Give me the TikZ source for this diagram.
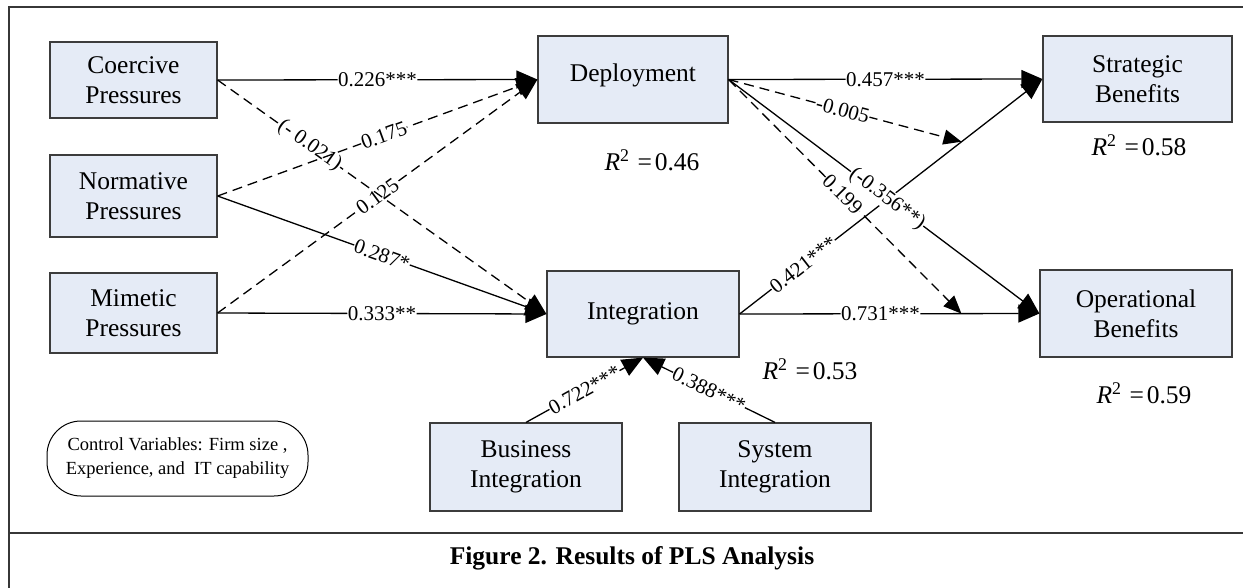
\documentclass[tikz,border=0pt]{standalone}
\usepackage{fontspec}
\setmainfont{Liberation Serif}
\usetikzlibrary{arrows.meta,calc}

\definecolor{boxfill}{RGB}{229,235,246}
\definecolor{boxline}{RGB}{60,60,60}
\definecolor{frameline}{RGB}{55,55,55}

\tikzset{
  construct/.style={draw=boxline, fill=boxfill, line width=1.2pt, align=center,
    inner sep=0pt, font=\fontsize{25.5}{30}\selectfont},
  link/.style={line width=1.3pt, -{Triangle[length=21pt,width=18pt]}},
  dashlink/.style={link, dash pattern=on 10pt off 6pt},
  modlink/.style={line width=1.3pt, dash pattern=on 10pt off 6pt,
    -{Triangle[length=18pt,width=15pt]}},
  coef/.style={fill=white, inner sep=0.5pt, sloped, font=\fontsize{21}{24}\selectfont},
  rsq/.style={inner sep=0pt, font=\fontsize{25.5}{30}\selectfont},
  ctrlbox/.style={draw=black, line width=1pt, rounded corners=34pt, align=center,
    inner sep=0pt, font=\fontsize{18.5}{24}\selectfont},
}

\newcommand{\Rsq}[1]{\textit{R}\textsuperscript{2}\hspace{8pt}=\hspace{3pt}#1}

\begin{document}
\begin{tikzpicture}[x=1pt, y=-1pt]
  \useasboundingbox (0,0) rectangle (1243,587);

  % outer frame and caption rule
  \begin{scope}
    \clip (0,0) rectangle (1243,587);
    \draw[frameline, line width=1.8pt] (9,7) rectangle (1262,612);
    \draw[frameline, line width=1.8pt] (9,533) -- (1262,533);
  \end{scope}

  % constructs
  \node[construct, minimum width=167pt, minimum height=76pt] (coer)  at (133.5,80)  {Coercive\\Pressures};
  \node[construct, minimum width=167pt, minimum height=82pt] (norm)  at (133.5,196) {Normative\\Pressures};
  \node[construct, minimum width=167pt, minimum height=80pt] (mim)   at (133.5,313) {Mimetic\\Pressures};
  \node[construct, minimum width=190pt, minimum height=87pt, text depth=13pt] (dep) at (633,79.5) {Deployment};
  \node[construct, minimum width=192pt, minimum height=86pt] (integ) at (643,314)   {Integration};
  \node[construct, minimum width=189pt, minimum height=86pt] (strat) at (1137.5,79) {Strategic\\Benefits};
  \node[construct, minimum width=192pt, minimum height=87pt] (oper)  at (1136,313.5) {Operational\\Benefits};
  \node[construct, minimum width=192pt, minimum height=88pt] (bus)   at (526,467)   {Business\\Integration};
  \node[construct, minimum width=192pt, minimum height=88pt] (sys)   at (775,467)   {System\\Integration};

  % explained variance
  \node[rsq] (r1) at (652,160)  {\Rsq{0.46}};
  \node[rsq] (r2) at (1139,145) {\Rsq{0.58}};
  \node[rsq] (r3) at (810,369)  {\Rsq{0.53}};
  \node[rsq] (r4) at (1144,393) {\Rsq{0.59}};

  % control variables
  \node[ctrlbox, minimum width=261pt, minimum height=75pt] (ctrl) at (177.5,458.5)
    {Control Variables: Firm size ,\\Experience, and\ \ IT capability};

  % points on the integration paths hit by the moderating effects
  \coordinate (m1) at ($(integ.east)!0.733!(strat.west)$);
  \coordinate (m2) at ($(integ.east)!0.74!(oper.west)$);

  % institutional pressures
  \draw[dashlink] (mim.east)  -- node[coef] {0.125} (dep.west);
  \draw[dashlink] (coer.east) -- node[coef, pos=0.28] {(- 0.021)} (integ.west);
  \draw[link]     (coer.east) -- node[coef] {0.226***} (dep.west);
  \draw[dashlink] (norm.east) -- node[coef, pos=0.52] {0.175} (dep.west);
  \draw[link]     (norm.east) -- node[coef] {0.287*} (integ.west);
  \draw[link]     (mim.east)  -- node[coef] {0.333**} (integ.west);

  % integration antecedents
  \draw[link] (bus.north) -- node[coef] {0.722***} (integ.south);
  \draw[link] (sys.north) -- node[coef] {0.388***} (integ.south);

  % benefits
  \draw[link] (integ.east) -- node[coef, pos=0.21] {0.421***} (strat.west);
  \draw[link] (integ.east) -- node[coef, pos=0.47] {0.731***} (oper.west);
  \draw[link] (dep.east) -- node[coef] {0.457***} (strat.west);
  \draw[link] (dep.east) -- node[coef, pos=0.51] {(-0.356**)} (oper.west);
  \draw[modlink] (dep.east) -- node[coef, pos=0.49] {-0.005} (m1);
  \draw[modlink] (dep.east) -- node[coef, pos=0.49] {0.199} (m2);

  % caption
  \node[font=\bfseries\fontsize{25.5}{30}\selectfont] (cap) at (632,558) {Figure 2. Results of PLS Analysis};
\end{tikzpicture}
\end{document}
